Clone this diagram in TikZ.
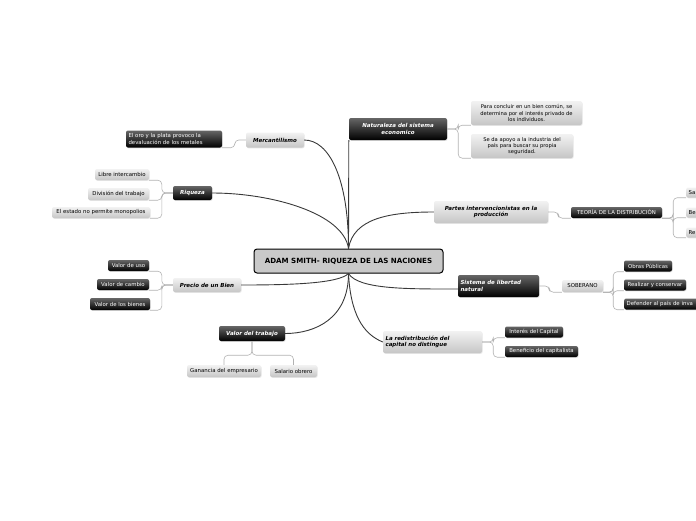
\documentclass[tikz,border=0pt]{standalone}
\usepackage{fontspec}
\setmainfont{DejaVu Sans}
\usetikzlibrary{shadows}

\begin{document}
\begin{tikzpicture}[x=1pt,y=-1pt,
    every node/.style={inner xsep=2.5pt,inner ysep=0pt,rounded corners=2pt,align=center,
      font=\fontsize{5.4}{6.3}\selectfont},
    darkbox/.style={top color=gray!80!black,bottom color=black,text=white,
      drop shadow={opacity=.25,shadow xshift=.6pt,shadow yshift=-.8pt}},
    lightbox/.style={top color=gray!10,bottom color=gray!45,text=black,
      drop shadow={opacity=.2,shadow xshift=.6pt,shadow yshift=-.8pt}},
    topic/.style={font=\fontsize{5.5}{6.6}\selectfont\bfseries\itshape},
    link/.style={draw=gray!45!black,line width=.9pt},
    branch/.style={draw=gray!60,line width=.6pt,rounded corners=4pt}]
  \useasboundingbox (0,0) rectangle (696,520);
  \clip (0,0) rectangle (696,520);

  % centre
  \node[draw=black,line width=1pt,fill=gray!42,rounded corners=3pt,minimum width=189,minimum height=24,
    font=\fontsize{7.1}{8.5}\selectfont\bfseries] (ctr) at (348.5,261) {ADAM SMITH- RIQUEZA DE LAS NACIONES};

  % main topics
  \node[darkbox,topic,minimum width=98,minimum height=22] (nat) at (398,129) {Naturaleza del sistema\\economico};
  \node[lightbox,topic,minimum width=58,minimum height=15] (mer) at (275,140) {Mercantilismo};
  \node[darkbox,topic,minimum width=39,minimum height=14] (riq) at (192.5,193) {Riqueza};
  \node[lightbox,topic,minimum width=114,minimum height=22] (par) at (491,212) {Partes intervencionistas en la\\producción};
  \node[lightbox,topic,minimum width=68,minimum height=14] (pre) at (207,285) {Precio de un Bien};
  \node[darkbox,topic,minimum width=81,minimum height=22,text width=76,align=left] (sis) at (498.5,286) {Sistema de libertad\\natural};
  \node[darkbox,topic,minimum width=66,minimum height=15] (vtr) at (252,333.5) {Valor del trabajo};
  \node[lightbox,topic,minimum width=99,minimum height=22,text width=94,align=left] (red) at (432.5,342) {La redistribución del\\capital no distingue};

  % details
  \node[lightbox,minimum width=111,minimum height=24,font=\fontsize{5.2}{6.2}\selectfont] (nat1) at (526.5,113) {Para concluir en un bien común, se\\determina por el interés privado de\\los individuos.};
  \node[lightbox,minimum width=102,minimum height=24,font=\fontsize{5.2}{6.2}\selectfont] (nat2) at (522,146) {Se da apoyo a la industria del\\país para buscar su propia\\seguridad.};
  \node[darkbox,minimum width=96,minimum height=17,text width=91,align=left] (mer1) at (174,139) {El oro y la plata provoco la\\devaluación de los metales};
  \node[lightbox,minimum width=54,minimum height=11] (riq1) at (122,174.5) {Libre intercambio};
  \node[lightbox,minimum width=61,minimum height=12] (riq2) at (118.5,194) {División del trabajo};
  \node[lightbox,minimum width=98,minimum height=11] (riq3) at (101,212.5) {El estado no permite monopolios};
  \node[darkbox,minimum width=41,minimum height=11] (pre1) at (128.5,265.5) {Valor de uso};
  \node[darkbox,minimum width=52,minimum height=11] (pre2) at (123,284.5) {Valor de cambio};
  \node[darkbox,minimum width=60,minimum height=12] (pre3) at (120,304) {Valor de los bienes};
  \node[lightbox,minimum width=74,minimum height=12] (vtr1) at (224,371) {Ganancia del empresario};
  \node[lightbox,minimum width=47,minimum height=12] (vtr2) at (293.5,371) {Salario obrero};
  \node[darkbox,minimum width=91,minimum height=11] (teo) at (616.5,212.5) {TEORÍA DE LA DISTRIBUCIÓN};
  \node[lightbox,anchor=west,text width=40,align=left,minimum height=10] (sa) at (686,192.5) {Sa};
  \node[lightbox,anchor=west,text width=40,align=left,minimum height=10] (be) at (686,212.5) {Be};
  \node[lightbox,anchor=west,text width=40,align=left,minimum height=10] (re) at (686,232.5) {Re};
  \node[lightbox,minimum width=41,minimum height=12] (sob) at (582.5,286) {SOBERANO};
  \node[darkbox,minimum width=48,minimum height=11] (sob1) at (648,266) {Obras Públicas};
  \node[darkbox,minimum width=62,minimum height=11] (sob2) at (655,285) {Realizar y conservar};
  \node[darkbox,anchor=west,text width=90,align=left,minimum height=11] (sob3) at (624,304) {Defender al país de inva};
  \node[darkbox,minimum width=58,minimum height=11] (red1) at (534,332) {Interés del Capital};
  \node[darkbox,minimum width=73,minimum height=11] (red2) at (541.5,351.5) {Beneficio del capitalista};

  % links from the centre
  \draw[link] (ctr.north) -- (nat.south west);
  \draw[link] (ctr.north) .. controls +(0,-70) and +(25,0) .. (mer.east);
  \draw[link] (ctr.north) .. controls +(-5,-35) and +(60,0) .. (riq.east);
  \draw[link] (ctr.north) .. controls +(5,-30) and +(-45,0) .. (par.west);
  \draw[link] (ctr.south) .. controls +(-10,10) and +(50,0) .. (pre.east);
  \draw[link] (ctr.south) .. controls +(0,45) and +(30,0) .. (vtr.east);
  \draw[link] (ctr.south) .. controls +(10,16) and +(-50,0) .. ([yshift=-3]sis.west);
  \draw[link] (ctr.south) .. controls +(2,40) and +(-20,-8) .. (red.west);

  % branches
  \draw[branch] (nat.east) -- ++(11,0) |- (nat1.south west);
  \draw[branch] (nat.east) -- ++(11,0) |- (nat2.south west);
  \draw[branch] (mer.west) -- ++(-11,0) |- (mer1.south east);
  \draw[branch] (riq.west) -- ++(-11,0) |- (riq1.south east);
  \draw[branch] (riq.west) -- ++(-11,0) |- (riq2.south east);
  \draw[branch] (riq.west) -- ++(-11,0) |- (riq3.south east);
  \draw[branch] (pre.west) -- ++(-11,0) |- (pre1.south east);
  \draw[branch] (pre.west) -- ++(-11,0) |- (pre2.south east);
  \draw[branch] (pre.west) -- ++(-11,0) |- (pre3.south east);
  \draw[branch] (vtr.south) -- ++(0,14) -| (vtr1.north);
  \draw[branch] (vtr.south) -- ++(0,14) -| (vtr2.north);
  \draw[branch] (par.east) -- ++(10,0) |- (teo.south west);
  \draw[branch] (teo.south east) -- ++(11,0) |- (sa.south west);
  \draw[branch] (teo.south east) -- ++(11,0) |- (be.south west);
  \draw[branch] (teo.south east) -- ++(11,0) |- (re.south west);
  \draw[branch] (sis.east) -- ++(10,0) |- (sob.south west);
  \draw[branch] (sob.south east) -- ++(10,0) |- (sob1.south west);
  \draw[branch] (sob.south east) -- ++(10,0) |- (sob2.south west);
  \draw[branch] (sob.south east) -- ++(10,0) |- (sob3.south west);
  \draw[branch] (red.east) -- ++(11,0) |- (red1.south west);
  \draw[branch] (red.east) -- ++(11,0) |- (red2.south west);
\end{tikzpicture}
\end{document}
